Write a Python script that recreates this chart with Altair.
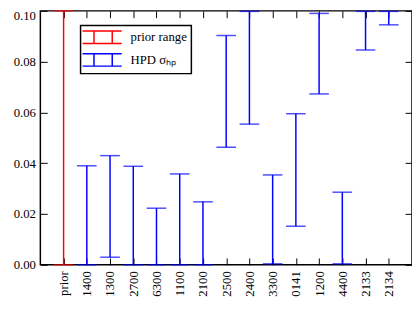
import json
import altair as alt
import pandas as pd

cats = ["prior", "1400", "1300", "2700", "6300", "1100", "2100", "2500",
        "2400", "3300", "0141", "1200", "4400", "2133", "2134"]
lo = [0.0, 0.0, 0.003, 0.0, 0.0, 0.0, 0.0, 0.0463, 0.0554, 0.0004,
      0.0152, 0.0673, 0.0004, 0.0846, 0.0945]
hi = [0.100, 0.039, 0.043, 0.0388, 0.0223, 0.0358, 0.0248, 0.0903,
      0.0998, 0.0354, 0.0595, 0.0990, 0.0286, 0.0998, 0.0998]
series_names = ["prior range", "HPD σₕₚ"]
series = [series_names[0]] + [series_names[1]] * (len(cats) - 1)
y_ticks = [0.0, 0.02, 0.04, 0.06, 0.08, 0.10]

df = pd.DataFrame({
    "idx": list(range(1, len(cats) + 1)),
    "cat": cats, "lo": lo, "hi": hi, "series": series,
})

W, H = 379, 259
FONT = "Liberation Serif"

xscale = alt.Scale(domain=[0, len(cats) + 1], nice=False, zero=False)
xaxis = alt.Axis(
    values=list(range(1, len(cats) + 1)),
    labelExpr=json.dumps(cats) + "[datum.value - 1]",
    labelAngle=-90, labelPadding=6, ticks=False, domain=False,
    labelOverlap=False, labelFlush=False,
    grid=True, gridDash=[7, H - 14], gridColor="#000", gridWidth=1,
    gridOpacity=1, title=None,
)
yscale = alt.Scale(domain=[0, 0.1], nice=False)
yaxis = alt.Axis(
    values=y_ticks, format=".2f", labelPadding=5, ticks=False, domain=False,
    labelOverlap=False, labelFlush=False,
    labelOffset={"condition": {"test": "datum.value >= 0.099", "value": 5},
                 "value": 0},
    grid=True, gridDash=[7, W - 14], gridColor="#000", gridWidth=1,
    gridOpacity=1, title=None,
)
cscale = alt.Scale(domain=series_names, range=["#ff0000", "#0000ff"])

sym = ("M-1.43,-0.91L4.28,-0.91M-1.43,0.91L4.28,0.91"
       "M0.24,-0.91L0.24,0.91M2.9,-0.91L2.9,0.91")

base = alt.Chart(df)
bars = base.mark_rule(strokeWidth=1.5).encode(
    x=alt.X("idx:Q", scale=xscale, axis=xaxis),
    y=alt.Y("lo:Q", scale=yscale, axis=yaxis),
    y2="hi:Q",
    color=alt.Color(
        "series:N", scale=cscale,
        legend=alt.Legend(
            title=None, orient="none", legendX=41, legendY=15,
            symbolType=sym, symbolSize=196, symbolStrokeWidth=1.5,
            symbolFillColor="transparent", labelOffset=31, rowPadding=3,
            padding=4, strokeColor="#000", labelFontSize=13, labelFont=FONT,
            labelColor="#000",
        ),
    ),
)
cap_lo = base.mark_tick(orient="horizontal", size=20, thickness=1.5).encode(
    x=alt.X("idx:Q", scale=xscale, axis=xaxis),
    y=alt.Y("lo:Q", scale=yscale, axis=yaxis),
    color=alt.Color("series:N", scale=cscale, legend=None),
)
cap_hi = base.mark_tick(orient="horizontal", size=20, thickness=1.5).encode(
    x=alt.X("idx:Q", scale=xscale, axis=xaxis),
    y=alt.Y("hi:Q", scale=yscale, axis=yaxis),
    color=alt.Color("series:N", scale=cscale, legend=None),
)

chart = alt.layer(bars, cap_lo, cap_hi).properties(
    width=W, height=H,
    autosize=alt.AutoSizeParams(type="none"),
    padding={"left": 33, "top": 0, "right": 0, "bottom": 36},
).configure_view(
    stroke="#000", strokeWidth=1.5
).configure_axis(
    labelFont=FONT, labelFontSize=13, labelColor="#000",
).configure_legend(
    strokeWidth=1.5,
)

chart.save("out.html", embed_options={"renderer": "svg", "actions": False})
